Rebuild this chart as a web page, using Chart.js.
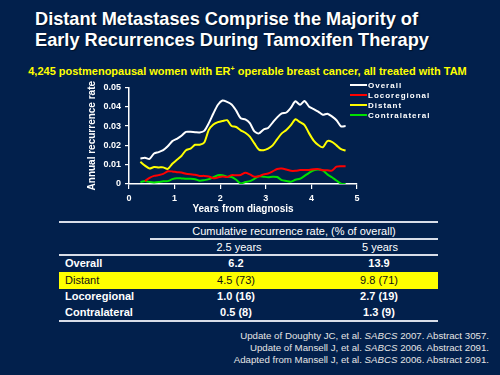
<!DOCTYPE html>
<html>
<head>
<meta charset="utf-8">
<script src="https://cdn.jsdelivr.net/npm/chart.js@4.4.0/dist/chart.umd.min.js"></script>
<style>
  body { margin: 0; }
  #slide {
    position: relative; width: 500px; height: 375px; overflow: hidden;
    background: #02204c; font-family: "Liberation Sans", Arial, sans-serif; color: #fff;
  }
  .abs { position: absolute; white-space: nowrap; }
  #title { left: 35px; top: 9px; font-size: 18.2px; font-weight: bold; line-height: 21px; text-shadow: 1px 1px 1px rgba(0,0,0,0.5); }
  #sub { left: 0; width: 495px; top: 65px; text-align: center; font-size: 11px; font-weight: bold; color: #ffff00; }
  #sub sup { font-size: 7px; vertical-align: 4px; line-height: 0; }
  #chartBox { position: absolute; left: 60px; top: 78px; width: 310px; height: 142px; }
  .leg { position: absolute; left: 350px; font-size: 8px; font-weight: bold; letter-spacing: 1px; line-height: 10px; }
  .leg i { display: inline-block; width: 17px; height: 2px; vertical-align: middle; margin-right: 1px; position: relative; top: -1px; }
  .hl { position: absolute; height: 2px; background: #d8dde8; }
  .cell { position: absolute; font-size: 11px; line-height: 14px; transform: translate(-50%, -50%); }
  .lab { position: absolute; font-size: 11px; line-height: 14px; transform: translateY(-50%); left: 65px; }
  .b { font-weight: bold; }
  .dk { color: #111; }
  .cite { position: absolute; right: 11px; font-size: 9.7px; line-height: 12px; color: #e4e4e4; text-align: right; }
</style>
</head>
<body>
<div id="slide">
  <div id="title" class="abs">Distant Metastases Comprise the Majority of<br>Early Recurrences During Tamoxifen Therapy</div>
  <div id="sub" class="abs">4,245 postmenopausal women with ER<sup>+</sup> operable breast cancer, all treated with TAM</div>

  <div id="chartBox"><canvas id="myChart" width="310" height="142"></canvas></div>
  <div id="legend"></div>

  <div class="hl" style="left:59px; width:379px; top:221px;"></div>
  <div class="hl" style="left:150px; width:288px; top:238px;"></div>
  <div class="hl" style="left:59px; width:379px; top:254px;"></div>
  <div style="position:absolute; left:59px; width:379px; top:272px; height:17px; background:#ffff00;"></div>
  <div class="hl" style="left:59px; width:379px; top:320px;"></div>
  <div id="table"></div>

  <div class="cite" style="top:330px;">Update of Doughty JC, et al. <i>SABCS</i> 2007. Abstract 3057.</div>
  <div class="cite" style="top:342px;">Update of Mansell J, et al. <i>SABCS</i> 2006. Abstract 2091.</div>
  <div class="cite" style="top:354px;">Adapted from Mansell J, et al. <i>SABCS</i> 2006. Abstract 2091.</div>
</div>

<script>
// years from diagnosis (x values)
const years = [0.25, 0.35, 0.45, 0.55, 0.65, 0.75, 0.85, 0.95, 1.05, 1.15,
  1.25, 1.35, 1.45, 1.55, 1.65, 1.75, 1.85, 1.95, 2.05, 2.15,
  2.25, 2.35, 2.45, 2.55, 2.65, 2.75, 2.85, 2.95, 3.05, 3.15,
  3.25, 3.35, 3.45, 3.55, 3.65, 3.75, 3.85, 3.95, 4.05, 4.15,
  4.25, 4.35, 4.45, 4.55, 4.65, 4.75];

const overall = [0.0132, 0.0136, 0.0130, 0.0158, 0.0165, 0.0175, 0.0195, 0.0222, 0.0234, 0.0250,
  0.0270, 0.0270, 0.0268, 0.0267, 0.0275, 0.0315, 0.0365, 0.0410, 0.0432, 0.0425,
  0.0412, 0.0380, 0.0340, 0.0335, 0.0315, 0.0272, 0.0262, 0.0282, 0.0290, 0.0318,
  0.0345, 0.0365, 0.0370, 0.0395, 0.0428, 0.0410, 0.0430, 0.0400, 0.0388, 0.0375,
  0.0358, 0.0364, 0.0350, 0.0330, 0.0298, 0.0300];

const locoregional = [null, 0.0015, 0.0032, 0.0042, 0.0046, 0.0052, 0.0066, 0.0065, 0.0061, 0.0059,
  0.0053, 0.0050, 0.0048, 0.0042, 0.0042, 0.0039, 0.0030, 0.0034, 0.0039, 0.0036,
  0.0046, 0.0045, 0.0047, 0.0058, 0.0050, 0.0038, 0.0040, 0.0050, 0.0054, 0.0065,
  0.0078, 0.0080, 0.0075, 0.0068, 0.0068, 0.0072, 0.0073, 0.0073, 0.0076, 0.0077,
  0.0071, 0.0071, 0.0069, 0.0090, 0.0092, 0.0092];

const distant = [0.0115, 0.0095, 0.0080, 0.0088, 0.0086, 0.0086, 0.0078, 0.0105, 0.0125, 0.0145,
  0.0175, 0.0183, 0.0203, 0.0203, 0.0215, 0.0280, 0.0308, 0.0320, 0.0326, 0.0330,
  0.0300, 0.0295, 0.0278, 0.0265, 0.0245, 0.0210, 0.0178, 0.0175, 0.0183, 0.0200,
  0.0232, 0.0262, 0.0280, 0.0305, 0.0335, 0.0320, 0.0305, 0.0262, 0.0225, 0.0202,
  0.0190, 0.0222, 0.0218, 0.0200, 0.0180, 0.0173];

const contralateral = [0.0010, 0.0015, 0.0010, 0.0008, 0.0010, 0.0014, 0.0015, 0.0025, 0.0030, 0.0029,
  0.0027, 0.0027, 0.0025, 0.0017, 0.0020, 0.0025, 0.0035, 0.0045, 0.0045, 0.0038,
  0.0036, 0.0022, 0.0003, 0.0010, 0.0015, 0.0027, 0.0040, 0.0038, 0.0035, 0.0038,
  0.0036, 0.0020, 0.0016, 0.0012, 0.0022, 0.0027, 0.0042, 0.0058, 0.0071, 0.0075,
  0.0070, 0.0050, 0.0035, 0.0018, 0.0002, 0.0000];

const seriesNames = ['Overall', 'Locoregional', 'Distant', 'Contralateral'];
const seriesColors = ['#ffffff', '#ff0000', '#ffff00', '#00e000'];
const xTicks = [0, 1, 2, 3, 4, 5];
const yTicks = [0, 0.01, 0.02, 0.03, 0.04, 0.05];

// table data
const tableTimes = ['2.5 years', '5 years'];
const tableRows = ['Overall', 'Distant', 'Locoregional', 'Contralateral'];
const at25 = ['6.2', '4.5 (73)', '1.0 (16)', '0.5 (8)'];
const at5 = ['13.9', '9.8 (71)', '2.7 (19)', '1.3 (9)'];

const toPoints = (arr) => arr.map((v, i) => ({ x: years[i], y: v }));

const allSeries = [overall, locoregional, distant, contralateral];

// legend
const legend = document.getElementById('legend');
seriesNames.forEach((name, i) => {
  const d = document.createElement('div');
  d.className = 'leg';
  d.style.top = (81 + i * 10) + 'px';
  d.innerHTML = `<i style="background:${seriesColors[i]}"></i>${name}`;
  legend.appendChild(d);
});

// table
const table = document.getElementById('table');
const addCell = (cls, text, x, y) => {
  const d = document.createElement('div');
  d.className = cls;
  if (x !== null) d.style.left = x + 'px';
  d.style.top = y + 'px';
  d.textContent = text;
  table.appendChild(d);
};
addCell('cell', 'Cumulative recurrence rate, (% of overall)', 294, 231);
addCell('cell', tableTimes[0], 239, 247);
addCell('cell', tableTimes[1], 380, 247);
const rowY = [263, 280, 296, 312];
tableRows.forEach((r, i) => {
  const isDistant = r === 'Distant';
  const cls = isDistant ? ' dk' : ' b';
  addCell('lab' + cls, r, null, rowY[i]);
  addCell('cell' + cls, at25[i], 236, rowY[i]);
  addCell('cell' + cls, at5[i], 379, rowY[i]);
});

const ctx = document.getElementById('myChart').getContext('2d');
const myChart = new Chart(ctx, {
  type: 'line',
  data: {
    datasets: allSeries.map((s, i) => ({
      label: seriesNames[i],
      data: toPoints(s),
      borderColor: seriesColors[i],
      borderWidth: 2,
      pointRadius: 0,
      tension: 0.25,
      fill: false
    }))
  },
  options: {
    responsive: false,
    animation: false,
    layout: { padding: { left: 0, right: 13, top: 8, bottom: 0 } },
    plugins: { legend: { display: false }, tooltip: { enabled: false } },
    scales: {
      x: {
        type: 'linear',
        min: 0, max: 5,
        afterFit: (scale) => { scale.height = 36; },
        afterBuildTicks: (scale) => { scale.ticks = xTicks.map(v => ({ value: v })); },
        ticks: { color: '#ffffff', padding: 4, font: { family: 'Liberation Sans', size: 9, weight: 'bold' } },
        grid: { drawOnChartArea: false, color: '#ffffff', tickLength: 5, lineWidth: 1.2 },
        border: { color: '#ffffff', width: 1.5 },
        title: { display: true, text: 'Years from diagnosis', color: '#ffffff', padding: { top: 0, bottom: 5 },
          font: { family: 'Liberation Sans', size: 10, weight: 'bold' } }
      },
      y: {
        min: 0, max: 0.05,
        afterFit: (scale) => { scale.width = 69; },
        afterBuildTicks: (scale) => { scale.ticks = yTicks.map(v => ({ value: v })); },
        ticks: { color: '#ffffff', padding: 4, font: { family: 'Liberation Sans', size: 9, weight: 'bold' },
          callback: (v) => v === 0 ? '0' : v.toFixed(2) },
        grid: { drawOnChartArea: false, color: '#ffffff', tickLength: 4, lineWidth: 1.2 },
        border: { color: '#ffffff', width: 1.5 },
        title: { display: true, text: 'Annual recurrence rate', color: '#ffffff', padding: { top: 26, bottom: 0 },
          font: { family: 'Liberation Sans', size: 10, weight: 'bold' } }
      }
    }
  }
});
</script>
</body>
</html>
